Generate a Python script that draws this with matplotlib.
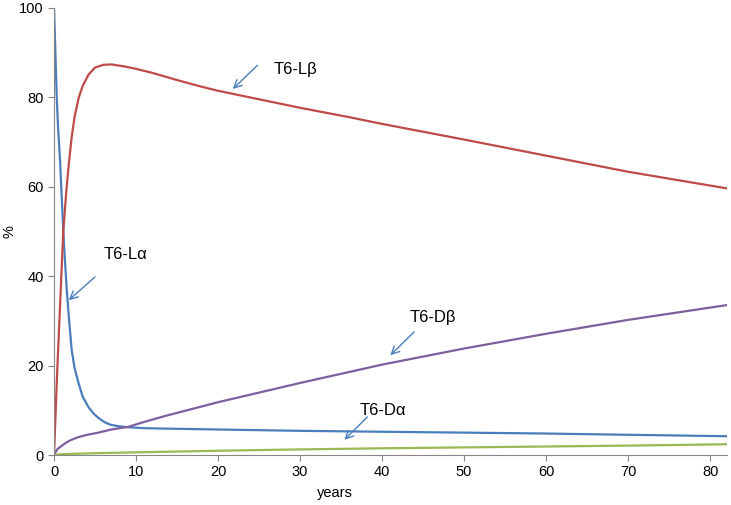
import matplotlib
matplotlib.use("Agg")
import matplotlib.pyplot as plt

plt.rcParams["font.family"] = ["Liberation Sans", "DejaVu Sans"]

# values (years, %)
la_x = [0, 0.15, 0.33, 0.5, 0.73, 0.93, 1.13, 1.35, 1.55, 1.8, 2.15, 2.5, 3.0, 3.5, 4.2, 4.8, 5.4, 6.2, 7.0, 8.0, 9.0, 11, 13.5, 20, 30, 40, 50, 60, 67, 82]
la_y = [100, 91, 80, 73, 66, 58, 50, 43, 37, 31, 23.5, 19.5, 16, 13, 10.7, 9.3, 8.3, 7.3, 6.7, 6.4, 6.2, 6.0, 5.9, 5.7, 5.4, 5.2, 5.0, 4.8, 4.6, 4.2]

lb_x = [0, 0.35, 0.75, 1.13, 1.5, 1.8, 2.15, 2.5, 3.0, 3.5, 4.2, 5.0, 6.0, 7.0, 8.7, 10, 12, 15, 17.8, 20, 25, 30, 36, 40, 50, 60, 70, 82]
lb_y = [0, 17, 34, 50, 59, 65, 71, 75.5, 79.8, 82.5, 85.0, 86.6, 87.2, 87.3, 86.8, 86.3, 85.4, 83.8, 82.4, 81.4, 79.5, 77.6, 75.5, 74.0, 70.5, 66.9, 63.3, 59.6]

db_x = [0, 0.4, 1.34, 2.0, 2.97, 4.0, 5.4, 7.0, 9.06, 11, 13.5, 20, 30, 40, 50, 60, 70, 82]
db_y = [0, 1.3, 2.6, 3.3, 4.0, 4.5, 5.0, 5.7, 6.3, 7.4, 8.7, 11.8, 16.1, 20.2, 23.8, 27.1, 30.2, 33.5]

da_x = [0, 1, 5, 10, 20, 30, 40, 50, 60, 70, 82]
da_y = [0, 0.2, 0.4, 0.6, 0.95, 1.25, 1.5, 1.7, 1.9, 2.1, 2.4]

labels = ["T6-L\u03b2", "T6-L\u03b1", "T6-D\u03b2", "T6-D\u03b1"]
text_pos = [(26.8, 86.2), (6.1, 44.9), (43.3, 30.8), (37.3, 10.0)]
arrow_tail = [(24.8, 87.1), (5.0, 39.8), (43.9, 27.5), (38.2, 8.5)]
arrow_head = [(21.8, 81.8), (1.8, 34.6), (41.0, 22.3), (35.4, 3.4)]

fig = plt.figure(figsize=(7.31, 5.05), dpi=100)
ax = fig.add_axes([0.0739, 0.099, 0.9201, 0.886])

ax.plot(la_x, la_y, color="#4a7ebb", lw=1.6)
ax.plot(lb_x, lb_y, color="#be4b48", lw=1.6)
ax.plot(db_x, db_y, color="#7d5fa0", lw=1.6)
ax.plot(da_x, da_y, color="#98b954", lw=1.6)

for lab, tp, t, h in zip(labels, text_pos, arrow_tail, arrow_head):
    ax.text(tp[0], tp[1], lab, fontsize=12, ha="left", va="center")
    ax.annotate("", xy=h, xytext=t,
                arrowprops=dict(arrowstyle="->", color="#4a7ebb", lw=1.0,
                                mutation_scale=14, shrinkA=0, shrinkB=0))

ax.set_xlim(0, 82)
ax.set_ylim(0, 100)
ax.set_xticks(range(0, 81, 10))
ax.set_yticks(range(0, 101, 20))
for s in ["top", "right"]:
    ax.spines[s].set_visible(False)
for s in ["left", "bottom"]:
    ax.spines[s].set_color("#868686")
ax.tick_params(direction="out", length=4, color="#868686", labelsize=10.5)

# axis titles placed where the reference has them
fig.text(335 / 731, 1 - 493 / 505, "years", fontsize=10.5, ha="center", va="center")
fig.text(9 / 731, 1 - 232 / 505, "%", fontsize=10.5, rotation=90, ha="center", va="center")

fig.savefig("out.png", dpi=100)
